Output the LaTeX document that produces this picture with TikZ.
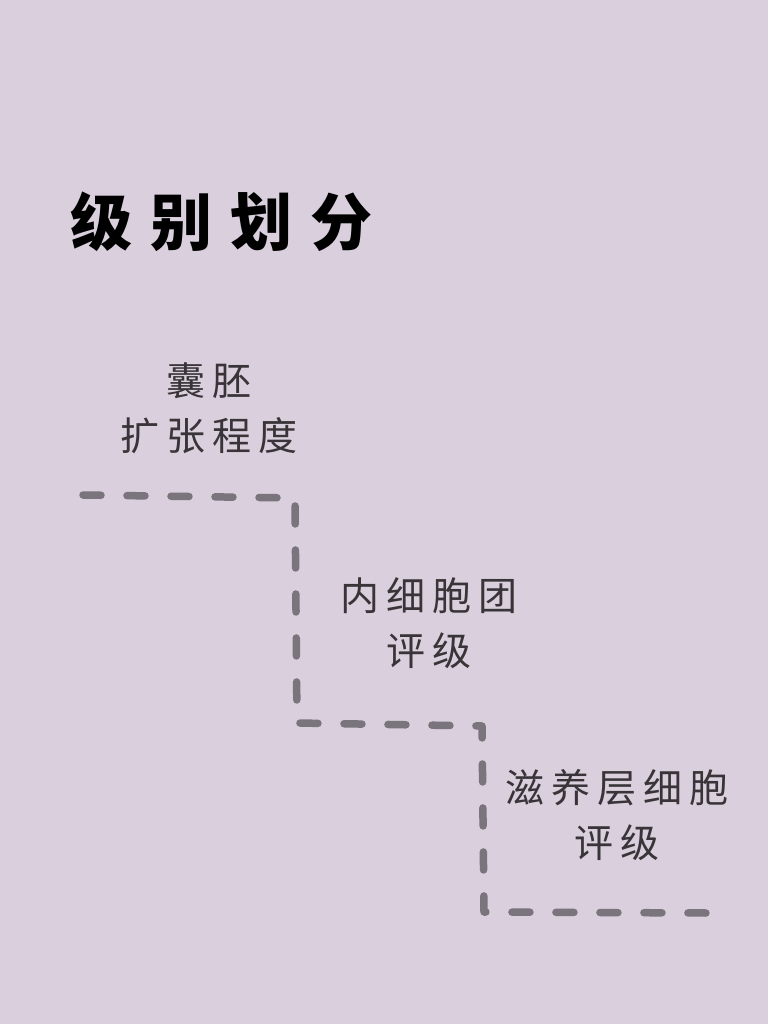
\documentclass[tikz,border=0pt]{standalone}
\usepackage{fontspec}
\newfontfamily\cjk{Noto Sans CJK SC}
\newfontfamily\cjkblack{Noto Sans CJK SC Black}
\definecolor{bg}{HTML}{D9CFDD}
\definecolor{dashgray}{HTML}{7A747C}
\definecolor{txt}{HTML}{383438}
\newcommand{\csp}{\hspace{7pt}}
\begin{document}
\begin{tikzpicture}[x=1pt,y=-1pt,
  stepline/.style={draw=dashgray,line width=7.5pt,line cap=round,line join=round,dash pattern=on 18pt off 26pt},
  lbl/.style={text=txt,font=\cjk\fontsize{39}{55}\selectfont,align=center,inner sep=0pt},
  ttl/.style={text=black,font=\cjkblack\fontsize{62}{70}\selectfont,inner sep=0pt,anchor=west}]
\useasboundingbox[fill=bg] (0,0) rectangle (768,1024);
\node[ttl] (title) at (70,222) {级\hspace{18pt}别\hspace{18pt}划\hspace{18pt}分};
\node[lbl] (l1) at (209,408) {囊\csp 胚\\扩\csp 张\csp 程\csp 度};
\node[lbl] (l2) at (429,623) {内\csp 细\csp 胞\csp 团\\评\csp 级};
\node[lbl] (l3) at (617,815) {滋\csp 养\csp 层\csp 细\csp 胞\\评\csp 级};
\coordinate (p0) at (83,495);
\coordinate (p1) at (295,498);
\coordinate (p2) at (297,723);
\coordinate (p3) at (482,726);
\coordinate (p4) at (484,912);
\coordinate (p5) at (708,913);
\draw[stepline] (p0) -- (p1) -- (p2) -- (p3) -- (p4) -- (p5);
\end{tikzpicture}
\end{document}
